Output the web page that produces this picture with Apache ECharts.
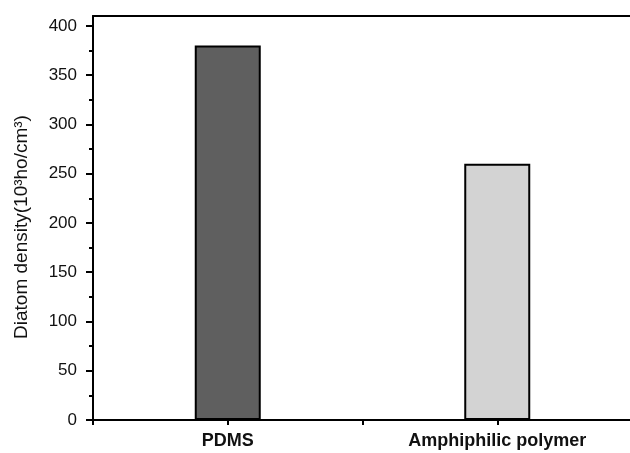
<!DOCTYPE html>
<html>
<head>
<meta charset="utf-8">
<style>
  html, body { margin: 0; padding: 0; background: #fff; }
  #chart { width: 630px; height: 453px; }
</style>
<script src="https://cdn.jsdelivr.net/npm/echarts@6/dist/echarts.min.js"></script>
</head>
<body>
<div id="chart"></div>
<script>
const categories = ['PDMS', 'Amphiphilic polymer'];
const densities = [380, 260];
const yMajorTicks = [0, 50, 100, 150, 200, 250, 300, 350, 400];
const yMinorTicks = [25, 75, 125, 175, 225, 275, 325, 375];

const barColors = ['#5f5f5f', '#d3d3d3'];

// bars sit on a value axis so the ticks can fall both on labels and between them
const barData = densities.map((v, i) => ({
  value: [i * 2 + 1, v],
  itemStyle: { color: barColors[i] }
}));

const font = 'Liberation Sans, Arial, sans-serif';

const chart = echarts.init(document.getElementById('chart'), null, { renderer: 'canvas' });

chart.setOption({
  animation: false,
  grid: { left: 93, top: 16, width: 539, height: 404, outerBoundsMode: 'none', containLabel: false },
  xAxis: [
    {
      type: 'value',
      min: 0,
      max: 4,
      interval: 1,
      splitLine: { show: false },
      axisLine: { show: true, onZero: false, lineStyle: { color: '#000', width: 2 } },
      axisTick: { show: true, length: 5, lineStyle: { color: '#000', width: 2 } },
      axisLabel: {
        margin: 12,
        color: '#111',
        fontFamily: font,
        fontSize: 18,
        fontWeight: 'bold',
        formatter: (v) => (v % 2 === 1 ? categories[(v - 1) / 2] : '')
      }
    },
    {
      // top frame line
      type: 'value',
      position: 'top',
      min: 0,
      max: 4,
      splitLine: { show: false },
      axisLine: { show: true, onZero: false, lineStyle: { color: '#000', width: 2 } },
      axisTick: { show: false },
      axisLabel: { show: false }
    }
  ],
  yAxis: [
    {
      type: 'value',
      min: 0,
      max: 410,
      interval: 50,
      splitLine: { show: false },
      axisLine: { show: true, onZero: false, lineStyle: { color: '#000', width: 2 } },
      axisTick: { show: true, length: 7, customValues: yMajorTicks, lineStyle: { color: '#000', width: 2 } },
      axisLabel: {
        customValues: yMajorTicks,
        margin: 16,
        color: '#111',
        fontFamily: font,
        fontSize: 17
      },
      name: 'Diatom density(10\u00B3ho/cm\u00B3)',
      nameLocation: 'middle',
      nameGap: 62,
      nameTextStyle: {
        color: '#111',
        fontFamily: font,
        fontSize: 19,
        padding: [0, 18, 0, 0]
      }
    },
    {
      // minor ticks only, placed on x = 0 (the left edge)
      type: 'value',
      position: 'right',
      min: 0,
      max: 410,
      splitLine: { show: false },
      axisLine: { show: false, onZero: true, onZeroAxisIndex: 0 },
      axisLabel: { show: false },
      axisTick: { show: true, inside: true, length: 4, customValues: yMinorTicks, lineStyle: { color: '#000', width: 2 } }
    }
  ],
  series: [
    {
      type: 'bar',
      data: barData,
      barWidth: 66,
      itemStyle: { borderColor: '#000', borderWidth: 2 }
    }
  ]
});
</script>
</body>
</html>
